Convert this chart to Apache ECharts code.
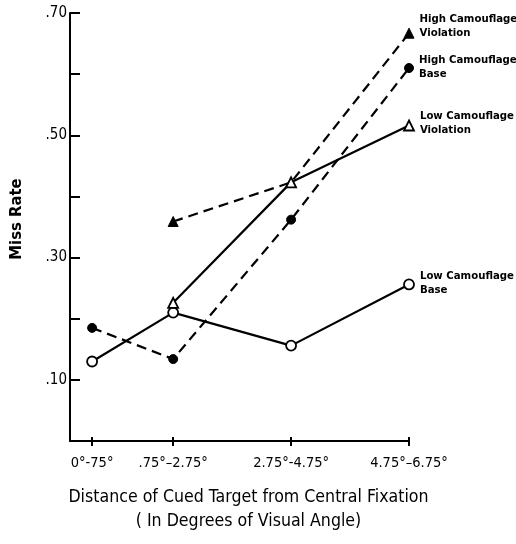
<!DOCTYPE html>
<html>
<head>
<meta charset="utf-8">
<script src="https://cdn.jsdelivr.net/npm/echarts@6/dist/echarts.min.js"></script>
<style>
html,body{margin:0;padding:0;background:#fff;}
#chart{width:516px;height:544px;}
</style>
</head>
<body>
<div id="chart"></div>
<script>
// Category ranges (degrees of visual angle) and their midpoints
var categories = ['0°-75°', '.75°–2.75°', '2.75°-4.75°', '4.75°–6.75°'];
var xMid = [0.375, 1.75, 3.75, 5.75];
// Miss rates
var highCamViolation = [null, 0.359, 0.423, 0.667];
var highCamBase = [0.185, 0.134, 0.362, 0.61];
var lowCamViolation = [null, 0.226, 0.423, 0.516];
var lowCamBase = [0.13, 0.21, 0.156, 0.256];
var yTickLabels = {'0.1': '.10', '0.3': '.30', '0.5': '.50', '0.7': '.70'};

var FONT = "'DejaVu Sans Condensed', 'Liberation Sans Narrow', 'Liberation Sans', sans-serif";

function build(values, labelText, labelOffset) {
  var out = [];
  for (var i = 0; i < values.length; i++) {
    if (values[i] == null) continue;
    var item = { value: [xMid[i], values[i]] };
    if (i === values.length - 1) {
      item.label = {
        show: true,
        position: 'right',
        distance: 5,
        offset: labelOffset,
        formatter: labelText,
        color: '#000',
        fontFamily: FONT,
        fontWeight: 'bold',
        fontSize: 11.3,
        lineHeight: 14
      };
    }
    out.push(item);
  }
  return out;
}

var chart = echarts.init(document.getElementById('chart'), null, {renderer: 'canvas'});
var option = {
  backgroundColor: '#fff',
  animation: false,
  grid: { left: 69, right: 107, top: 13, bottom: 103, containLabel: false },
  xAxis: [{
    type: 'value',
    min: 0, max: 5.75,
    axisLine: { show: true, lineStyle: { color: '#000', width: 2 } },
    axisTick: { show: true, customValues: xMid, length: 5, lineStyle: { color: '#000', width: 2 } },
    axisLabel: {
      customValues: xMid,
      margin: 15,
      color: '#000', fontFamily: FONT, fontSize: 14.5,
      formatter: function (v) {
        for (var i = 0; i < xMid.length; i++) if (Math.abs(xMid[i] - v) < 1e-6) return categories[i];
        return '';
      }
    },
    splitLine: { show: false },
    name: 'Distance of Cued Target from Central Fixation\n( In Degrees of Visual Angle)',
    nameLocation: 'middle',
    nameGap: 44,
    nameTextStyle: { color: '#000', fontFamily: FONT, fontSize: 17.6, lineHeight: 24, padding: [0, 0, 0, 18] }
  }, {
    type: 'value',
    min: 0, max: 5.75,
    position: 'bottom',
    axisLine: { show: false },
    axisTick: { show: true, inside: true, customValues: xMid, length: 4, lineStyle: { color: '#000', width: 2 } },
    axisLabel: { show: false },
    splitLine: { show: false }
  }],
  yAxis: {
    type: 'value',
    min: 0, max: 0.7, interval: 0.1,
    axisLine: { show: true, lineStyle: { color: '#000', width: 2 } },
    axisTick: { show: true, inside: true, length: 10, lineStyle: { color: '#000', width: 2 } },
    axisLabel: {
      margin: 3,
      color: '#000', fontFamily: FONT, fontSize: 15,
      formatter: function (v) { var k = String(Math.round(v * 10) / 10); return yTickLabels[k] || ''; }
    },
    splitLine: { show: false },
    name: 'Miss Rate',
    nameLocation: 'middle',
    nameGap: 45,
    nameTextStyle: { color: '#000', fontFamily: FONT, fontSize: 16.5, fontWeight: 'bold', padding: [0, 0, 0, 16] }
  },
  series: [
    {
      name: 'Low Camouflage Base', type: 'line', z: 3,
      data: build(lowCamBase, 'Low Camouflage\nBase', [0, -1]),
      lineStyle: { color: '#000', width: 2.2, type: 'solid' },
      symbol: 'circle', symbolSize: 10,
      itemStyle: { color: '#fff', borderColor: '#000', borderWidth: 1.8 }
    },
    {
      name: 'High Camouflage Base', type: 'line', z: 2,
      data: build(highCamBase, 'High Camouflage\nBase', [0, -1]),
      lineStyle: { color: '#000', width: 2.2, type: [10, 6] },
      symbol: 'circle', symbolSize: 9,
      itemStyle: { color: '#000', borderColor: '#000', borderWidth: 1 }
    },
    {
      name: 'Low Camouflage Violation', type: 'line', z: 3,
      data: build(lowCamViolation, 'Low Camouflage\nViolation', [0, -2]),
      lineStyle: { color: '#000', width: 2.2, type: 'solid' },
      symbol: 'triangle', symbolSize: 10,
      itemStyle: { color: '#fff', borderColor: '#000', borderWidth: 1.8 }
    },
    {
      name: 'High Camouflage Violation', type: 'line', z: 2,
      data: build(highCamViolation, 'High Camouflage\nViolation', [0, -7]),
      lineStyle: { color: '#000', width: 2.2, type: [10, 6] },
      symbol: 'triangle', symbolSize: 10,
      itemStyle: { color: '#000', borderColor: '#000', borderWidth: 1 }
    }
  ]
};
chart.setOption(option);
</script>
</body>
</html>
